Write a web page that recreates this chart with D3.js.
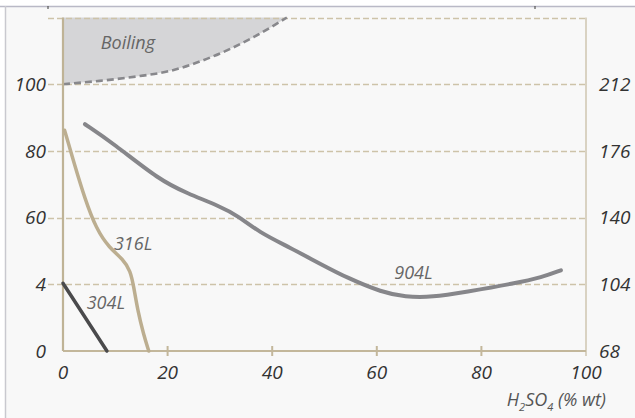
<!DOCTYPE html>
<html>
<head>
<meta charset="utf-8">
<script src="https://cdn.jsdelivr.net/npm/d3@7"></script>
<style>
  html, body { margin: 0; padding: 0; background: #ffffff; }
  svg text { font-family: "Open Sans", "DejaVu Sans", sans-serif; font-style: italic; font-weight: 400; }
</style>
</head>
<body>
<svg id="chart"></svg>
<script>
// Chart values (x = H2SO4 % wt, y = temperature in °C)
let xTicks = [0, 20, 40, 60, 80, 100];
let yTicks = [20, 40, 60, 80, 100, 120];
let leftLabels = ["0", "4", "60", "80", "100"];
let rightLabels = ["68", "104", "140", "176", "212"];

let boilingX = [0, 7, 14, 20.5, 27.5, 36.3, 42.8];
let boilingY = [100, 101.0, 102.3, 104.0, 107.6, 114.0, 120];

let alloy904X = [4.2, 9.6, 18.5, 23.7, 30.0, 33.5, 37.5, 43.4, 49.1, 54.5, 61.0, 65.4, 70.6, 76.9, 86.4, 91.6, 95.2];
let alloy904Y = [88.0, 82.3, 71.2, 67.3, 63.4, 60.5, 55.6, 51.0, 46.2, 41.8, 37.6, 36.2, 36.1, 37.7, 40.3, 42.1, 44.2];

let alloy316X = [0.3, 2.0, 4.2, 6.4, 8.8, 11.5, 12.9, 13.5, 14.3, 15.4, 16.4];
let alloy316Y = [86.2, 77.0, 65.5, 56.5, 51.0, 47.5, 44.0, 39.5, 32.0, 25.0, 20];

let alloy304X = [0, 8.4];
let alloy304Y = [40.3, 20];

let width = 635;
let height = 418;
let margin = {top: 17.5, right: 49, bottom: 67, left: 63};

let svg = d3.select("#chart")
    .attr("width", width)
    .attr("height", height);

// Frame
svg.append("rect")
    .attr("x", 5).attr("y", 6)
    .attr("width", width - 5).attr("height", height - 6)
    .attr("fill", "#f8f8f8");
svg.append("line")
    .attr("x1", 0).attr("x2", width).attr("y1", 6.5).attr("y2", 6.5)
    .attr("stroke", "#b9b9c6").attr("stroke-width", 1.5);
svg.append("line")
    .attr("x1", 5.5).attr("x2", 5.5).attr("y1", 6).attr("y2", height)
    .attr("stroke", "#c9c9cf").attr("stroke-width", 1.5);
[48, 535].forEach(x => {
    svg.append("line")
        .attr("x1", x).attr("x2", x).attr("y1", 6).attr("y2", 9)
        .attr("stroke", "#555").attr("stroke-width", 1.2);
});

let xScale = d3.scaleLinear()
    .domain([0, 100])
    .range([margin.left, width - margin.right]);
let yScale = d3.scaleLinear()
    .domain([20, 120])
    .range([height - margin.bottom, margin.top]);

let x0 = xScale(0);
let x1 = xScale(100);

// Boiling area
let boilData = boilingX.map((x, i) => ({x: x, y: boilingY[i]}));
let boilLine = d3.line().x(d => xScale(d.x)).y(d => yScale(d.y)).curve(d3.curveMonotoneX);
svg.append("path")
    .attr("d", boilLine(boilData) + `L${xScale(0)},${yScale(120)}Z`)
    .attr("fill", "#d5d5d7");

// Gridlines
svg.append("g")
    .selectAll("line")
    .data(yTicks.slice(1))
    .join("line")
    .attr("x1", 48)
    .attr("x2", x1)
    .attr("y1", d => Math.round(yScale(d)) + 0.5)
    .attr("y2", d => Math.round(yScale(d)) + 0.5)
    .attr("stroke", "#cdc3a9")
    .attr("stroke-width", 1.3)
    .attr("stroke-dasharray", "6,3");

// Boiling boundary
svg.append("path")
    .datum(boilData)
    .attr("d", boilLine)
    .attr("fill", "none")
    .attr("stroke", "#88888c")
    .attr("stroke-width", 2.6)
    .attr("stroke-dasharray", "7,4");

// Right axis
svg.append("line")
    .attr("x1", x1).attr("x2", x1)
    .attr("y1", yScale(120)).attr("y2", yScale(20) + 5)
    .attr("stroke", "#d9d2c2").attr("stroke-width", 2);

// Bottom axis
svg.append("line")
    .attr("x1", x0).attr("x2", x1)
    .attr("y1", yScale(20)).attr("y2", yScale(20))
    .attr("stroke", "#c3b79b").attr("stroke-width", 2);
svg.append("g")
    .selectAll("line")
    .data(xTicks.slice(1, 5))
    .join("line")
    .attr("x1", d => xScale(d)).attr("x2", d => xScale(d))
    .attr("y1", yScale(20) - 5).attr("y2", yScale(20) + 5)
    .attr("stroke", "#c3b79b").attr("stroke-width", 2);

// Left axis
svg.append("line")
    .attr("x1", x0).attr("x2", x0)
    .attr("y1", yScale(120)).attr("y2", yScale(20))
    .attr("stroke", "#bfb396").attr("stroke-width", 2.2);

// Curves
let line = d3.line().x(d => xScale(d.x)).y(d => yScale(d.y)).curve(d3.curveBasis);
function drawCurve(xs, ys, color, w) {
    let pts = xs.map((x, i) => ({x: x, y: ys[i]}));
    svg.append("path")
        .datum(pts)
        .attr("d", line)
        .attr("fill", "none")
        .attr("stroke", color)
        .attr("stroke-width", w)
        .attr("stroke-linecap", "round");
}
drawCurve(alloy904X, alloy904Y, "#86868a", 4);
drawCurve(alloy316X, alloy316Y, "#bcae90", 3.5);
drawCurve(alloy304X, alloy304Y, "#4a4a4c", 3.5);

// Tick labels
let fontSize = 19;
svg.append("g")
    .selectAll("text")
    .data(leftLabels)
    .join("text")
    .attr("x", 46)
    .attr("y", (d, i) => yScale(yTicks[i]))
    .attr("dy", "0.35em")
    .attr("text-anchor", "end")
    .attr("font-size", fontSize)
    .attr("fill", "#333")
    .text(d => d);

svg.append("g")
    .selectAll("text")
    .data(rightLabels)
    .join("text")
    .attr("x", 599)
    .attr("y", (d, i) => yScale(yTicks[i]))
    .attr("dy", "0.35em")
    .attr("text-anchor", "start")
    .attr("font-size", fontSize)
    .attr("fill", "#333")
    .text(d => d);

svg.append("g")
    .selectAll("text")
    .data(xTicks)
    .join("text")
    .attr("x", d => xScale(d))
    .attr("y", 372)
    .attr("dy", "0.35em")
    .attr("text-anchor", "middle")
    .attr("font-size", fontSize)
    .attr("fill", "#333")
    .text(d => d);

// Axis title with subscripts
let title = svg.append("text")
    .attr("x", 606)
    .attr("y", 406)
    .attr("text-anchor", "end")
    .attr("font-size", 18)
    .attr("fill", "#555");
title.append("tspan").text("H");
title.append("tspan").attr("dy", 5).attr("font-size", 11).text("2");
title.append("tspan").attr("dy", -5).text("SO");
title.append("tspan").attr("dy", 5).attr("font-size", 11).text("4");
title.append("tspan").attr("dy", -5).text(" (% wt)");

// Series labels
let labels = [
    {text: "Boiling", x: 12.4, y: 112.3},
    {text: "316L", x: 13.4, y: 52.3},
    {text: "304L", x: 8.2, y: 34.6},
    {text: "904L", x: 67, y: 43.6}
];
svg.append("g")
    .selectAll("text")
    .data(labels)
    .join("text")
    .attr("x", d => xScale(d.x))
    .attr("y", d => yScale(d.y))
    .attr("dy", "0.35em")
    .attr("text-anchor", "middle")
    .attr("font-size", 18)
    .attr("fill", "#666")
    .text(d => d.text);
</script>
</body>
</html>
